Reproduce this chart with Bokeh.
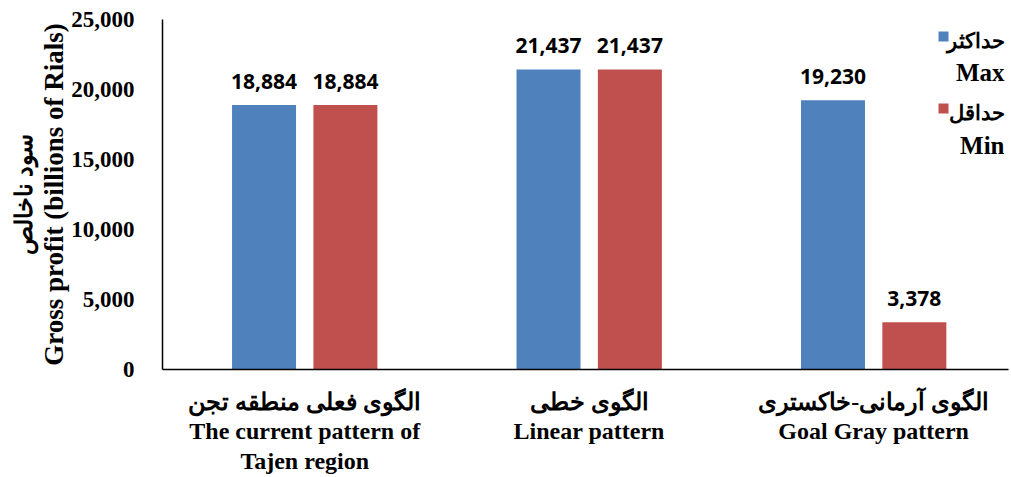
from bokeh.plotting import figure
from bokeh.models import Range1d, FixedTicker, ColumnDataSource, LabelSet, Title
from bokeh.core.properties import value
from bokeh.embed import file_html
from bokeh.resources import INLINE

categories = ["الگوی فعلی منطقه تجن\nThe current pattern of\nTajen region",
              "الگوی خطی\nLinear pattern",
              "الگوی آرمانی-خاکستری\nGoal Gray pattern"]
max_values = [18884, 21437, 19230]
min_values = [18884, 21437, 3378]
series_fa = ["حداکثر", "حداقل"]
series_en = ["Max", "Min"]
y_ticks = [0, 5000, 10000, 15000, 20000, 25000]
y_title_fa = "سود ناخالص"
y_title_en = "Gross profit (billions of Rials)"

BLUE = "#4F81BD"
RED = "#C0504D"
SERIF = "Liberation Serif"

xs = list(range(len(categories)))
off = 0.143
bw = 0.225

p = figure(width=1011, height=477, output_backend="svg", toolbar_location=None,
           x_range=Range1d(-0.5, 2.474), y_range=Range1d(0, 25000),
           min_border_left=162, min_border_right=3, min_border_top=19, min_border_bottom=108)
p.outline_line_color = None
p.grid.grid_line_color = None
p.background_fill_color = "white"
p.border_fill_color = "white"

src_max = ColumnDataSource(dict(x=[x - off for x in xs], top=max_values,
                                lab=[f"{v:,}" for v in max_values]))
src_min = ColumnDataSource(dict(x=[x + off for x in xs], top=min_values,
                                lab=[f"{v:,}" for v in min_values]))
r1 = p.vbar(x="x", top="top", width=bw, source=src_max, fill_color=BLUE, line_color=None)
r2 = p.vbar(x="x", top="top", width=bw, source=src_min, fill_color=RED, line_color=None)

for src in (src_max, src_min):
    p.add_layout(LabelSet(x="x", y="top", text="lab", source=src, y_offset=16,
                          text_align="center", text_baseline="bottom",
                          text_font=value("Open Sans"), text_font_style="bold",
                          text_font_size="21px", text_color="black"))

# manual legend (right-aligned text, square beside the Persian line)
leg_sq_x = 2.2456
leg_tx_x = 2.460
sq_y = [23786, 18643]
fa_y = [23500, 18286]
en_y = [21214, 16000]
p.scatter(x=[leg_sq_x] * 2, y=sq_y, marker="square", size=10,
          fill_color=[BLUE, RED], line_color=None)
p.text(x=[leg_tx_x] * 2, y=fa_y, text=series_fa, text_align="right",
       text_baseline="middle", text_font=value(SERIF), text_font_style="bold",
       text_font_size="21px", text_color="black")
p.text(x=[leg_tx_x] * 2, y=en_y, text=series_en, text_align="right",
       text_baseline="middle", text_font=value(SERIF), text_font_style="bold",
       text_font_size="25px", text_color="black")

# axes
xa = p.xaxis[0]
xa.ticker = FixedTicker(ticks=xs)
xa.major_label_overrides = {i: c for i, c in enumerate(categories)}
xa.major_tick_line_color = None
xa.minor_tick_line_color = None
xa.axis_line_color = "black"
xa.axis_line_width = 1.5
xa.major_label_text_font = SERIF
xa.major_label_text_font_style = "bold"
xa.major_label_text_font_size = "24px"
xa.major_label_text_color = "black"
xa.major_label_text_line_height = 1.15
xa.major_label_standoff = 13

ya = p.yaxis[0]
ya.ticker = FixedTicker(ticks=y_ticks)
ya.major_label_overrides = {t: f"{t:,}" for t in y_ticks}
ya.major_tick_line_color = None
ya.minor_tick_line_color = None
ya.axis_line_color = "black"
ya.axis_line_width = 1.5
ya.major_label_text_font = SERIF
ya.major_label_text_font_style = "bold"
ya.major_label_text_font_size = "23px"
ya.major_label_text_color = "black"
ya.major_label_standoff = 22

# y-axis title: two stacked side titles (English nearer the axis)
p.add_layout(Title(text=y_title_en, align="center", text_font=SERIF,
                   text_font_style="bold", text_font_size="27px",
                   text_color="black", standoff=0, offset=0), "left")
p.add_layout(Title(text=y_title_fa, align="center", text_font=SERIF,
                   text_font_style="bold", text_font_size="24px",
                   text_color="black", standoff=0, offset=0), "left")

open("out.html", "w").write(file_html(p, INLINE))
